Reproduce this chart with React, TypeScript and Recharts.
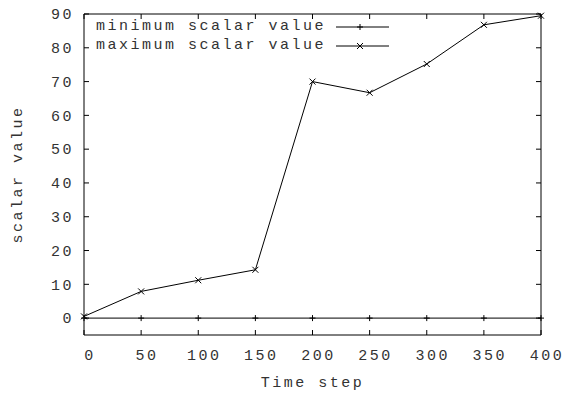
import { LineChart, Line, XAxis, YAxis, Legend, Label } from 'recharts';

const steps = [0, 50, 100, 150, 200, 250, 300, 350, 400];
const minValues = [0, 0, 0, 0, 0, 0, 0, 0, 0];
const maxValues = [0.5, 7.9, 11.2, 14.3, 70, 66.7, 75.2, 86.8, 89.5];
const xTicks = [0, 50, 100, 150, 200, 250, 300, 350, 400];
const yTicks = [0, 10, 20, 30, 40, 50, 60, 70, 80, 90];

const seriesNames = ['minimum scalar value', 'maximum scalar value'];

const data = steps.map((s, i) => ({ step: s, min: minValues[i], max: maxValues[i] }));

const FONT = '"Liberation Mono", "DejaVu Sans Mono", monospace';
const txt = { fontFamily: FONT, fontSize: 15, letterSpacing: 2.5, fill: '#333' };

// gnuplot style point markers
const Plus = ({ cx, cy }: any) => (
  <g stroke="#000" strokeWidth={1}>
    <line x1={cx - 3} x2={cx + 3} y1={cy} y2={cy} />
    <line x1={cx} x2={cx} y1={cy - 3} y2={cy + 3} />
  </g>
);
const Cross = ({ cx, cy }: any) => (
  <g stroke="#000" strokeWidth={1}>
    <line x1={cx - 3} x2={cx + 3} y1={cy - 3} y2={cy + 3} />
    <line x1={cx - 3} x2={cx + 3} y1={cy + 3} y2={cy - 3} />
  </g>
);

const BottomTick = ({ x, y, payload }: any) => (
  <g>
    <line x1={x} x2={x} y1={y} y2={y - 5} stroke="#000" />
    <text x={x + 6} y={y + 25} textAnchor="middle" style={txt}>{payload.value}</text>
  </g>
);
const TopTick = ({ x, y }: any) => <line x1={x} x2={x} y1={y} y2={y + 5} stroke="#000" />;
const LeftTick = ({ x, y, payload }: any) => (
  <g>
    <line x1={x} x2={x + 5} y1={y} y2={y} stroke="#000" />
    <text x={x - 10} y={y} dy="0.35em" textAnchor="end" style={txt}>{payload.value}</text>
  </g>
);
const RightTick = ({ x, y }: any) => <line x1={x} x2={x - 5} y1={y} y2={y} stroke="#000" />;

const renderLegend = () => (
  <div style={{ fontFamily: FONT, fontSize: 15, letterSpacing: 2.5, color: '#333' }}>
    {seriesNames.map((name, i) => (
      <div key={name} style={{ display: 'flex', alignItems: 'center', height: 19 }}>
        <span style={{ whiteSpace: 'pre' }}>{name}</span>
        <svg width={62} height={10} style={{ marginLeft: 8 }}>
          <line x1={2} x2={55} y1={5} y2={5} stroke="#000" />
          {i === 0 ? <Plus cx={26} cy={5} /> : <Cross cx={26} cy={5} />}
        </svg>
      </div>
    ))}
  </div>
);

export default function App() {
  return (
    <div>
      <style>{'body{margin:0}'}</style>
      <LineChart
        width={570}
        height={396}
        data={data}
        margin={{ top: 13, right: 28, bottom: 0, left: 0 }}
        style={{ fontFamily: FONT }}
      >
        <XAxis
          dataKey="step"
          type="number"
          domain={[0, 400]}
          ticks={xTicks}
          height={61}
          stroke="#000"
          tickLine={false}
          tickSize={0}
          tickMargin={0}
          tick={<BottomTick />}
          interval={0}
        >
          <Label value="Time step" position="insideBottom" offset={9} style={txt} />
        </XAxis>
        <XAxis
          xAxisId="top"
          orientation="top"
          dataKey="step"
          type="number"
          domain={[0, 400]}
          ticks={xTicks}
          height={1}
          stroke="#000"
          tickLine={false}
          tickSize={0}
          tickMargin={0}
          tick={<TopTick />}
          interval={0}
        />
        <YAxis
          type="number"
          domain={[-5, 90]}
          ticks={yTicks}
          width={84}
          stroke="#000"
          tickLine={false}
          tickSize={0}
          tickMargin={0}
          tick={<LeftTick />}
          interval={0}
        >
          <Label value="scalar value" angle={-90} position="insideLeft" offset={17} style={{ ...txt, textAnchor: 'middle' }} />
        </YAxis>
        <YAxis
          yAxisId="right"
          orientation="right"
          type="number"
          domain={[-5, 90]}
          ticks={yTicks}
          width={1}
          stroke="#000"
          tickLine={false}
          tickSize={0}
          tickMargin={0}
          tick={<RightTick />}
          interval={0}
        />
        <Legend
          layout="vertical"
          align="center"
          verticalAlign="middle"
          content={renderLegend}
          wrapperStyle={{ position: 'absolute', top: 17, left: 96, width: 'auto' }}
        />
        <Line
          xAxisId="top"
          yAxisId="right"
          dataKey="min"
          name={seriesNames[0]}
          stroke="#000"
          strokeWidth={1}
          dot={(p: any) => <Plus key={p.index} cx={p.cx} cy={p.cy} />}
          activeDot={false}
          isAnimationActive={false}
        />
        <Line
          dataKey="max"
          name={seriesNames[1]}
          stroke="#000"
          strokeWidth={1}
          dot={(p: any) => <Cross key={p.index} cx={p.cx} cy={p.cy} />}
          activeDot={false}
          isAnimationActive={false}
        />
      </LineChart>
    </div>
  );
}
